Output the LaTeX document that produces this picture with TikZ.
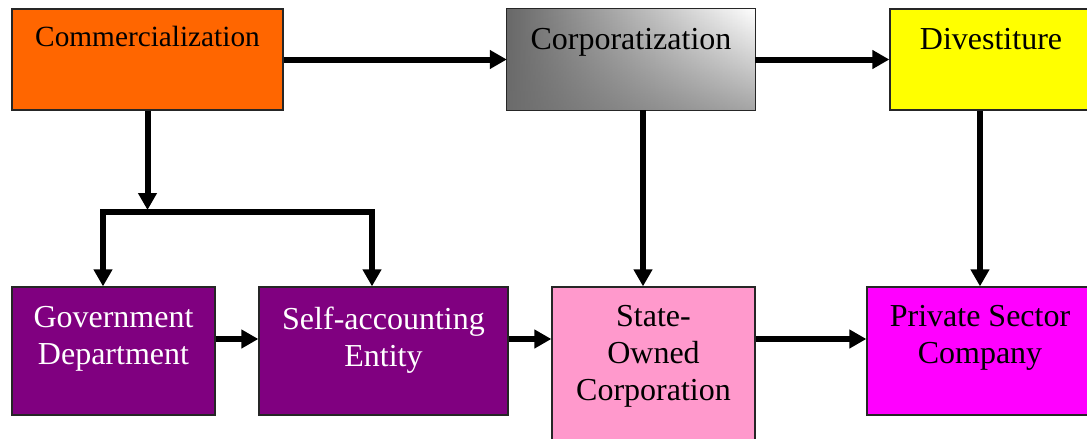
\documentclass[tikz,border=0pt]{standalone}
\usepackage{fontspec}
\setmainfont{Liberation Serif}
\usetikzlibrary{arrows.meta,fadings}
\definecolor{orangeC}{HTML}{FF6600}
\definecolor{yellowC}{HTML}{FFFF00}
\definecolor{purpleC}{HTML}{800080}
\definecolor{pinkC}{HTML}{FF99CC}
\definecolor{magentaC}{HTML}{FF00FF}
\definecolor{grayD}{HTML}{686868}
\definecolor{grayF}{HTML}{6E6E6E}
\begin{document}
\begin{tikzpicture}[x=1pt,y=1pt,
  box/.style={draw=black!85, line width=1.3pt, rectangle, inner sep=0pt},
  frame/.style={draw=black!85, line width=1.3pt},
  txt/.style={anchor=north, inner sep=0pt, align=center, font=\fontsize{32}{37}\selectfont},
  conn/.style={line width=6pt, draw=black, -{Triangle[length=17pt,width=18pt]}},
  biconn/.style={line width=6pt, draw=black, line join=miter,
     {Triangle[length=17pt,width=18pt]}-{Triangle[length=17pt,width=18pt]}}]
\clip (0,0) rectangle (1087,-439);
\fill[white] (0,0) rectangle (1087,-439);

% boxes
\node[box, fill=orangeC, minimum width=271pt, minimum height=101pt] (comm) at (147.5,-59.5) {};
\node[rectangle, inner sep=0pt, left color=grayD, right color=white,
      minimum width=248pt, minimum height=101pt] (corp) at (631,-59.5) {};
\fill[grayF, fill opacity=0.62, path fading=north] (corp.south west) rectangle (corp.north east);
\draw[frame] (corp.south west) rectangle (corp.north east);
\node[box, fill=yellowC, minimum width=202pt, minimum height=101pt] (div) at (991,-59.5) {};
\node[box, fill=purpleC, minimum width=203pt, minimum height=128pt] (gov) at (113.5,-351) {};
\node[box, fill=purpleC, minimum width=249pt, minimum height=128pt] (self) at (383.5,-351) {};
\node[box, fill=pinkC, minimum width=203pt, minimum height=158pt] (soc) at (653.5,-366) {};
\node[box, fill=magentaC, minimum width=226pt, minimum height=128pt] (psc) at (980,-351) {};

% texts
\node[txt, font=\fontsize{29.3}{37}\selectfont] (commT) at (147.5,-26.3) {Commercialization};
\node[txt] (corpT) at (631,-28.3) {Corporatization};
\node[txt] (divT) at (991,-28.3) {Divestiture};
\node[txt, text=white] (govT) at (113.5,-306.5) {Government\\Department};
\node[txt, text=white] (selfT) at (383.5,-306.5) {Self-accounting\\Entity};
\node[txt] (socT) at (653.5,-305.5) {State-\\Owned\\Corporation};
\node[txt] (pscT) at (980,-305.5) {Private Sector\\Company};

% helper coordinates
\coordinate (split) at (147.5,-210);
\coordinate (bl) at (103,-212);
\coordinate (br) at (372,-212);
\coordinate (cs) at (643,0);
\coordinate (r1) at (0,-339);

% connectors
\draw[conn] (comm.east) -- (corp.west);
\draw[conn] (corp.east) -- (div.west);
\draw[conn] (comm.south) -- (split);
\draw[biconn] (gov.north -| bl) |- (br) -- (self.north -| br);
\draw[conn] (corp.south -| cs) -- (soc.north -| cs);
\draw[conn] (psc.north |- div.south) -- (psc.north);
\draw[conn] (gov.east |- r1) -- (self.west |- r1);
\draw[conn] (self.east |- r1) -- (soc.west |- r1);
\draw[conn] (soc.east |- r1) -- (psc.west |- r1);
\end{tikzpicture}
\end{document}
